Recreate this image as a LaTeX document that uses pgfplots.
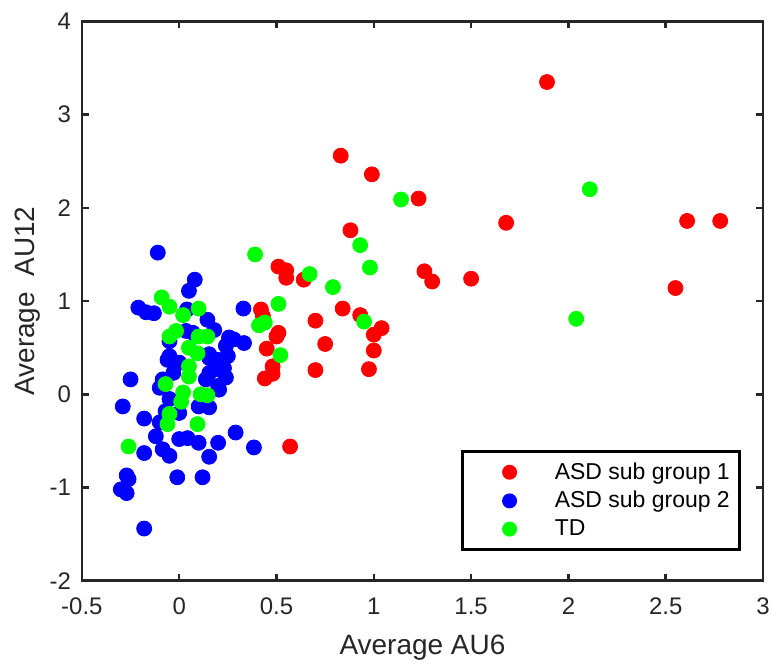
\documentclass[border=0pt]{standalone}
\usepackage{pgfplots}
\pgfplotsset{compat=1.18}
\usepackage{fontspec}
\setmainfont{Liberation Sans}
\definecolor{axgray}{RGB}{38,38,38}
\begin{document}
\begin{tikzpicture}
\begin{axis}[
  name=ax,
  scale only axis,
  width=341pt, height=280pt,
  xmin=-0.5, xmax=3, ymin=-2, ymax=4,
  xtick={-0.5,0,0.5,1,1.5,2,2.5,3},
  ytick={-2,-1,0,1,2,3,4},
  xticklabels={-0.5,0,0.5,1,1.5,2,2.5,3},
  yticklabels={-2,-1,0,1,2,3,4},
  tick align=inside,
  major tick length=3.5pt,
  axis line style={axgray, line width=1.25pt},
  every tick/.style={axgray, line width=1.25pt},
  tick label style={font=\fontsize{12}{14}\selectfont, text=axgray},
  xticklabel style={yshift=-5pt},
  yticklabel style={xshift=-2pt},
  xlabel={Average AU6},
  ylabel={Average\ \ AU12},
  label style={font=\fontsize{14}{16}\selectfont, text=axgray},
  xlabel style={at={(axis description cs:0.5,0)}, anchor=base, yshift=-37pt},
  ylabel style={at={(axis description cs:-0.07,0.5)}, anchor=base, rotate=0},
  legend style={at={(1,0)}, anchor=south east, xshift=-11pt, yshift=15pt,
    draw=black, line width=1.3pt, font=\fontsize{11.5}{13}\selectfont,
    inner xsep=3pt, inner ysep=3.5pt, row sep=0.5pt},
  legend cell align=left,
  legend image code/.code={\path (0pt,-4pt) (40pt,4pt); \fill[#1, draw=none] (20pt,0pt) circle (3.75pt);},
  clip=false,
]
\addplot[only marks, mark=*, mark size=3.75pt, color=red, fill=red] coordinates {
(1.89,3.35)(0.83,2.56)(0.99,2.36)(1.23,2.10)(1.68,1.84)(2.61,1.86)(2.78,1.86)(0.88,1.76)
(0.51,1.37)(0.55,1.33)(0.55,1.25)(0.64,1.23)(1.26,1.32)(1.30,1.21)(1.50,1.24)(2.55,1.14)
(0.42,0.91)(0.43,0.84)(0.84,0.92)(0.93,0.85)(0.70,0.79)(1.04,0.71)(1.00,0.64)(0.51,0.66)
(0.50,0.62)(0.75,0.54)(0.45,0.49)(1.00,0.47)(0.48,0.30)(0.48,0.22)(0.44,0.17)(0.70,0.26)
(0.975,0.27)(0.57,-0.56)
};
\addlegendentry{ASD sub group 1}
\addplot[only marks, mark=*, mark size=3.75pt, color=blue, fill=blue] coordinates {
(-0.11,1.52)(0.08,1.23)(0.05,1.11)(-0.21,0.93)(-0.17,0.88)(-0.13,0.87)(0.04,0.91)(0.145,0.80)
(0.18,0.69)(0.035,0.68)(-0.05,0.57)(0.33,0.92)(0.07,0.66)(0.256,0.61)(0.28,0.59)(0.333,0.55)
(0.24,0.52)(0.154,0.43)(0.25,0.41)(-0.06,0.37)(0.0,0.34)(-0.05,0.41)(0.154,0.39)(0.20,0.37)
(0.23,0.28)(0.24,0.18)(0.155,0.23)(0.20,0.27)(-0.03,0.23)(-0.085,0.16)(0.137,0.16)(0.20,0.09)
(0.205,0.05)(-0.25,0.16)(-0.10,0.07)(-0.05,-0.05)(0.10,-0.13)(0.154,-0.14)(0.0,-0.20)(-0.07,-0.18)
(-0.29,-0.13)(-0.18,-0.26)(-0.10,-0.30)(-0.12,-0.45)(0.0,-0.48)(0.043,-0.47)(0.10,-0.52)(0.20,-0.52)
(0.29,-0.41)(0.384,-0.57)(0.154,-0.67)(-0.18,-0.63)(-0.085,-0.59)(-0.05,-0.66)(-0.01,-0.89)(0.12,-0.89)
(-0.27,-0.87)(-0.26,-0.91)(-0.30,-1.02)(-0.27,-1.06)(-0.18,-1.44)
};
\addlegendentry{ASD sub group 2}
\addplot[only marks, mark=*, mark size=3.75pt, color=green, fill=green] coordinates {
(2.11,2.20)(2.04,0.81)(1.14,2.09)(0.93,1.60)(0.39,1.50)(0.67,1.29)(0.98,1.36)(0.79,1.15)
(0.51,0.97)(0.41,0.74)(0.44,0.77)(0.95,0.78)(0.52,0.42)
(-0.09,1.04)(-0.05,0.94)(0.02,0.85)(0.10,0.92)(-0.016,0.68)(-0.05,0.62)(0.10,0.62)(0.145,0.62)
(0.05,0.50)(0.094,0.44)(0.05,0.30)(0.05,0.19)(-0.07,0.11)(0.02,0.02)(0.01,-0.08)(0.11,0.0)
(0.145,-0.01)(-0.05,-0.21)(-0.06,-0.32)(0.094,-0.32)(-0.26,-0.56)
};
\addlegendentry{TD}
\end{axis}
\pgfresetboundingbox
\path ([xshift=-41pt,yshift=-41.5pt]ax.south west) rectangle ([xshift=4pt,yshift=10.75pt]ax.north east);
\end{tikzpicture}
\end{document}
